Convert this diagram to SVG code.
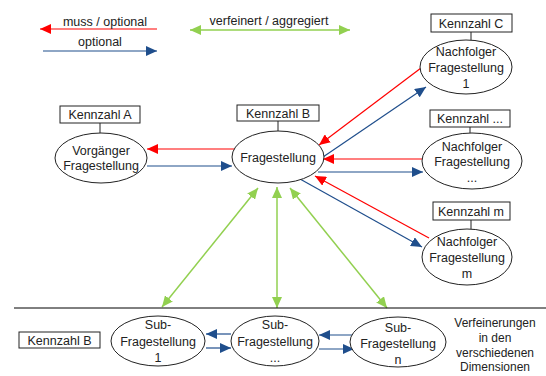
<svg xmlns="http://www.w3.org/2000/svg" width="546" height="376" viewBox="0 0 546 376">
<defs>
<style>
text{font-family:"Liberation Sans",Arial,sans-serif;font-size:12.5px;fill:#222;text-anchor:middle}
.box{fill:#fff;stroke:#222;stroke-width:1}
.ell{fill:#fff;stroke:#222;stroke-width:1}
.tie{stroke:#222;stroke-width:1}
.red{stroke:#ff0000;stroke-width:1.2;fill:none}
.blue{stroke:#1f4e8c;stroke-width:1.2;fill:none}
.green{stroke:#92d050;stroke-width:1.5;fill:none}
.sep{stroke:#000;stroke-width:1}
</style>
<marker id="hr" markerUnits="userSpaceOnUse" markerWidth="12" markerHeight="10" refX="11" refY="5" orient="auto-start-reverse"><path d="M0,0 L11,5 L0,10 Z" fill="#ff0000"/></marker>
<marker id="hb" markerUnits="userSpaceOnUse" markerWidth="12" markerHeight="10" refX="11" refY="5" orient="auto-start-reverse"><path d="M0,0 L11,5 L0,10 Z" fill="#1f4e8c"/></marker>
<marker id="hg" markerUnits="userSpaceOnUse" markerWidth="12" markerHeight="10" refX="11" refY="5" orient="auto-start-reverse"><path d="M0,0 L11,5 L0,10 Z" fill="#92d050"/></marker>
</defs>
<rect width="546" height="376" fill="#fff"/>

<g id="legend">
<line class="red" x1="157" y1="29" x2="40" y2="29" marker-end="url(#hr)"/>
<text x="105" y="26">muss / optional</text>
<line class="blue" x1="43" y1="51" x2="157" y2="51" marker-end="url(#hb)"/>
<text x="100" y="46">optional</text>
<line class="green" x1="190" y1="30" x2="350" y2="30" marker-start="url(#hg)" marker-end="url(#hg)"/>
<text x="269" y="25">verfeinert / aggregiert</text>
</g>

<g id="connectors">
<line class="red" x1="235" y1="149" x2="147" y2="149" marker-end="url(#hr)"/>
<line class="blue" x1="147" y1="166" x2="232" y2="166" marker-end="url(#hb)"/>
<line class="red" x1="421" y1="68" x2="319" y2="145" marker-end="url(#hr)"/>
<line class="blue" x1="323" y1="157" x2="426" y2="87" marker-end="url(#hb)"/>
<line class="red" x1="422" y1="159" x2="323" y2="159" marker-end="url(#hr)"/>
<line class="blue" x1="318" y1="172" x2="423" y2="172" marker-end="url(#hb)"/>
<line class="red" x1="429" y1="238" x2="315" y2="176" marker-end="url(#hr)"/>
<line class="blue" x1="300" y1="179" x2="422" y2="247" marker-end="url(#hb)"/>
<line class="green" x1="258" y1="188" x2="162" y2="307" marker-start="url(#hg)" marker-end="url(#hg)"/>
<line class="green" x1="277" y1="187" x2="277" y2="308" marker-start="url(#hg)" marker-end="url(#hg)"/>
<line class="green" x1="290" y1="188" x2="387" y2="308" marker-start="url(#hg)" marker-end="url(#hg)"/>
<line class="blue" x1="231" y1="334" x2="206" y2="334" marker-end="url(#hb)"/>
<line class="blue" x1="206" y1="348" x2="231" y2="348" marker-end="url(#hb)"/>
<line class="blue" x1="354" y1="335" x2="319" y2="335" marker-end="url(#hb)"/>
<line class="blue" x1="319" y1="349" x2="354" y2="349" marker-end="url(#hb)"/>
</g>

<line class="sep" x1="14" y1="308" x2="546" y2="308"/>

<g id="vorgaenger">
<rect class="box" x="60" y="106" width="80" height="17"/>
<text x="100" y="119">Kennzahl A</text>
<line class="tie" x1="100" y1="123" x2="100" y2="133"/>
<ellipse class="ell" cx="101" cy="158" rx="46" ry="25"/>
<text x="101" y="155">Vorgänger</text>
<text x="101" y="170">Fragestellung</text>
</g>

<g id="fragestellung">
<rect class="box" x="237" y="105" width="82" height="16"/>
<text x="278" y="117.5">Kennzahl B</text>
<line class="tie" x1="278" y1="121" x2="278" y2="131"/>
<ellipse class="ell" cx="278" cy="157" rx="46" ry="26"/>
<text x="278" y="162">Fragestellung</text>
</g>

<g id="nachfolger1">
<rect class="box" x="431" y="14" width="81" height="18"/>
<text x="471" y="27.5">Kennzahl C</text>
<line class="tie" x1="471" y1="32" x2="471" y2="40"/>
<ellipse class="ell" cx="466" cy="67" rx="46" ry="27"/>
<text x="466" y="56">Nachfolger</text>
<text x="466" y="72">Fragestellung</text>
<text x="466" y="88">1</text>
</g>

<g id="nachfolgerx">
<rect class="box" x="430" y="110" width="80" height="17"/>
<text x="470" y="123">Kennzahl ...</text>
<line class="tie" x1="470" y1="127" x2="470" y2="133"/>
<ellipse class="ell" cx="472" cy="161" rx="50" ry="28"/>
<text x="472" y="151">Nachfolger</text>
<text x="472" y="166">Fragestellung</text>
<text x="472" y="182">...</text>
</g>

<g id="nachfolgerm">
<rect class="box" x="433" y="202" width="77" height="18"/>
<text x="471" y="215.5">Kennzahl m</text>
<line class="tie" x1="471" y1="220" x2="471" y2="229"/>
<ellipse class="ell" cx="467" cy="257" rx="45" ry="28"/>
<text x="467" y="246">Nachfolger</text>
<text x="467" y="262">Fragestellung</text>
<text x="467" y="278">m</text>
</g>

<g id="kennzahlB2">
<rect class="box" x="19" y="332" width="81" height="16"/>
<text x="59.5" y="344.5">Kennzahl B</text>
</g>

<g id="sub1">
<ellipse class="ell" cx="158" cy="341" rx="47" ry="25"/>
<text x="158" y="329">Sub-</text>
<text x="158" y="346">Fragestellung</text>
<text x="158" y="362">1</text>
</g>

<g id="subx">
<ellipse class="ell" cx="275" cy="341" rx="44" ry="25"/>
<text x="275" y="329">Sub-</text>
<text x="275" y="346">Fragestellung</text>
<text x="275" y="362">...</text>
</g>

<g id="subn">
<ellipse class="ell" cx="398" cy="342" rx="48" ry="25"/>
<text x="398" y="332">Sub-</text>
<text x="398" y="348">Fragestellung</text>
<text x="398" y="364">n</text>
</g>

<g id="note" style="font-size:12px">
<text x="495" y="327" style="font-size:12px">Verfeinerungen</text>
<text x="495" y="342" style="font-size:12px">in den</text>
<text x="495" y="357" style="font-size:12px">verschiedenen</text>
<text x="495" y="371" style="font-size:12px">Dimensionen</text>
</g>
</svg>
